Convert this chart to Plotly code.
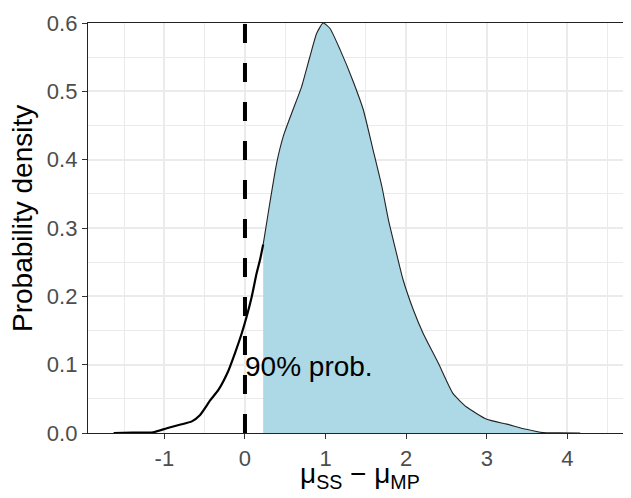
import plotly.graph_objects as go

# Density curve
dens_x = [-1.63, -1.4, -1.14, -0.97, -0.81, -0.66, -0.56, -0.43, -0.33, -0.21, -0.124, -0.04, 0.02,
          0.083, 0.145, 0.186, 0.226,
          0.31, 0.393, 0.475, 0.579, 0.703, 0.806, 0.89, 0.97, 1.055, 1.18, 1.344, 1.468, 1.59, 1.70,
          1.78, 1.88, 1.96, 2.09, 2.21, 2.40, 2.58, 2.75, 3.0, 3.25, 3.49, 3.70, 3.9, 4.16]
dens_y = [0.0, 0.0005, 0.001, 0.007, 0.012, 0.017, 0.026, 0.048, 0.063, 0.090, 0.117, 0.146, 0.170,
          0.199, 0.234, 0.253, 0.276,
          0.338, 0.395, 0.434, 0.468, 0.507, 0.551, 0.585, 0.600, 0.592, 0.561, 0.514, 0.473, 0.414, 0.360,
          0.312, 0.263, 0.225, 0.180, 0.146, 0.102, 0.058, 0.038, 0.020, 0.013, 0.0054, 0.0005, 0.0002, 0.0]
threshold = 0.226          # lower bound of the shaded 90% region
ref_line_x = 0.0           # dashed reference line
label_text = "90% prob."
label_x = 0.0
label_y = 0.097
x_ticks = [-1, 0, 1, 2, 3, 4]
y_ticks = [0.0, 0.1, 0.2, 0.3, 0.4, 0.5, 0.6]
x_title = "μ<sub>SS</sub> − μ<sub>MP</sub>"
y_title = "Probability density"

left_x = [x for x in dens_x if x <= threshold]
left_y = [y for x, y in zip(dens_x, dens_y) if x <= threshold]
right_x = [x for x in dens_x if x >= threshold]
right_y = [y for x, y in zip(dens_x, dens_y) if x >= threshold]

font_family = "Liberation Sans, Arial"

fig = go.Figure()
fig.add_trace(go.Scatter(x=right_x, y=right_y, mode="lines", fill="tozeroy",
                         fillcolor="#ADD8E6",
                         line=dict(color="#222222", width=1.1, shape="spline", smoothing=0.5),
                         hoverinfo="skip", showlegend=False))
fig.add_trace(go.Scatter(x=left_x, y=left_y, mode="lines",
                         line=dict(color="black", width=2.2, shape="spline", smoothing=0.5),
                         hoverinfo="skip", showlegend=False))
fig.add_trace(go.Scatter(x=[ref_line_x, ref_line_x], y=[y_ticks[0], y_ticks[-1]], mode="lines",
                         line=dict(color="black", width=4, dash="19px,20px"),
                         hoverinfo="skip", showlegend=False))

fig.add_annotation(x=label_x, y=label_y, text=label_text, showarrow=False,
                   xanchor="left", yanchor="middle", xshift=-2,
                   font=dict(family=font_family, size=28, color="black"))

# axis titles placed as paper annotations for precise placement
fig.add_annotation(xref="paper", yref="paper", x=0.5, y=0, yshift=-62, text=x_title,
                   showarrow=False, xanchor="center", yanchor="bottom",
                   font=dict(family=font_family, size=28, color="black"))
fig.add_annotation(xref="paper", yref="paper", x=0, y=0.5, xshift=-66, yshift=9, text=y_title,
                   textangle=-90, showarrow=False, xanchor="center", yanchor="middle",
                   font=dict(family=font_family, size=28, color="black"))

# page body adds an 8px offset, so the figure is sized to fill the rest of the window
fig.update_layout(
    width=623, height=490,
    margin=dict(l=80, r=0, t=15, b=65, autoexpand=False),
    plot_bgcolor="white", paper_bgcolor="white",
    font=dict(family=font_family),
    xaxis=dict(range=[-1.948, 4.79], tickvals=x_ticks, ticktext=[str(v) for v in x_ticks],
               automargin=False,
               showgrid=True, gridcolor="#EBEBEB", gridwidth=1.6,
               minor=dict(dtick=0.5, showgrid=True, gridcolor="#EBEBEB", gridwidth=1),
               showline=True, linecolor="#222222", linewidth=1.3, mirror=True,
               ticks="outside", ticklen=5, tickcolor="#333333", tickwidth=1.3,
               tickfont=dict(size=22, color="#4D4D4D"), zeroline=False),
    yaxis=dict(range=[0, 0.6], tickvals=y_ticks, ticktext=[f"{v:.1f}" for v in y_ticks],
               automargin=False,
               showgrid=True, gridcolor="#EBEBEB", gridwidth=1.6,
               minor=dict(dtick=0.05, showgrid=True, gridcolor="#EBEBEB", gridwidth=1),
               showline=True, linecolor="#222222", linewidth=1.3, mirror=False,
               ticks="outside", ticklen=5, tickcolor="#333333", tickwidth=1.3,
               tickfont=dict(size=22, color="#4D4D4D"), zeroline=False),
)
fig.write_html("out.html")
